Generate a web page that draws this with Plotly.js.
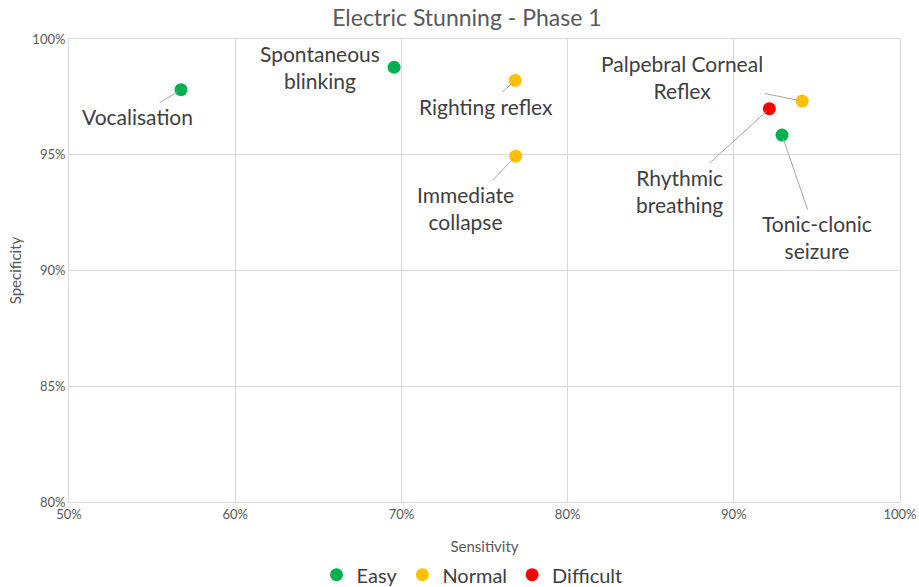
<!DOCTYPE html>
<html>
<head>
<meta charset="utf-8">
<script src="https://cdn.plot.ly/plotly-3.0.1.min.js"></script>
<style>html,body{margin:0;padding:0;background:#fff;}#chart{width:919px;height:587px;}</style>
</head>
<body>
<div id="chart"></div>
<script>
// Data
const indicators = ["Vocalisation", "Spontaneous<br>blinking", "Righting reflex", "Immediate<br>collapse", "Palpebral Corneal<br>Reflex", "Rhythmic<br>breathing", "Tonic-clonic<br>seizure"];
const sensitivity = [0.5674, 0.6956, 0.7685, 0.7688, 0.9412, 0.9214, 0.9290];
const specificity = [0.9781, 0.9878, 0.9821, 0.9494, 0.9732, 0.9699, 0.9585];
const difficulty  = ["Easy", "Easy", "Normal", "Normal", "Normal", "Difficult", "Easy"];
const groups = ["Easy", "Normal", "Difficult"];

// Styles
const groupColors = {Easy: "#00b050", Normal: "#ffc000", Difficult: "#ff0000"};
// label offsets (px) from each point, and whether a leader line is drawn
const labelStyle = [
  {ax: -44, ay: 27, arrow: true},
  {ax: -74, ay: 0, arrow: false},
  {ax: -29, ay: 26, arrow: true},
  {ax: -50, ay: 52, arrow: true},
  {ax: -120, ay: -24, arrow: true},
  {ax: -90, ay: 82, arrow: true},
  {ax: 35, ay: 102, arrow: true}
];

const font = "Lato, 'Open Sans', sans-serif";

const traces = groups.map(g => {
  const idx = difficulty.map((d, i) => d === g ? i : -1).filter(i => i >= 0);
  return {
    type: "scatter",
    mode: "markers",
    name: g,
    x: idx.map(i => sensitivity[i]),
    y: idx.map(i => specificity[i]),
    text: idx.map(i => indicators[i]),
    marker: {color: groupColors[g], size: 13},
    hoverinfo: "text+x+y"
  };
});

const annotations = indicators.map((t, i) => ({
  x: sensitivity[i], y: specificity[i], xref: "x", yref: "y",
  text: t,
  showarrow: true,
  arrowhead: 0,
  arrowwidth: 1,
  arrowcolor: labelStyle[i].arrow ? "#a6a6a6" : "rgba(0,0,0,0)",
  standoff: 4,
  ax: labelStyle[i].ax, ay: labelStyle[i].ay,
  font: {family: font, size: 21, color: "#404040"},
  align: "center"
}));

const layout = {
  width: 919, height: 587,
  margin: {l: 69, r: 19, t: 39, b: 85, autoexpand: false},
  paper_bgcolor: "#fff", plot_bgcolor: "#fff",
  title: {text: "Electric Stunning - Phase 1", font: {family: font, size: 23, color: "#595959"}, x: 0.508, xanchor: "center", y: 0.969, yanchor: "middle"},
  xaxis: {
    range: [0.5, 1.0], dtick: 0.1, tickformat: ".0%",
    showgrid: true, gridcolor: "#d9d9d9", gridwidth: 1,
    showline: true, linecolor: "#d9d9d9", mirror: true,
    zeroline: false, ticks: "",
    tickfont: {family: font, size: 13, color: "#595959"},
    title: {text: "Sensitivity", font: {family: font, size: 15, color: "#595959"}, standoff: 20}
  },
  yaxis: {
    range: [0.8, 1.0], dtick: 0.05, tickformat: ".0%",
    showgrid: true, gridcolor: "#d9d9d9", gridwidth: 1,
    showline: true, linecolor: "#d9d9d9", mirror: true,
    zeroline: false, ticks: "",
    tickfont: {family: font, size: 13, color: "#595959"},
    title: {text: "Specificity", font: {family: font, size: 15, color: "#595959"}, standoff: 7}
  },
  showlegend: true,
  legend: {orientation: "h", x: 0.485, xanchor: "center", y: -0.157, yanchor: "middle",
    font: {family: font, size: 20, color: "#404040"}, itemwidth: 30, traceorder: "normal"},
  annotations: annotations
};

Plotly.newPlot("chart", traces, layout, {displayModeBar: false, staticPlot: true});
</script>
</body>
</html>
